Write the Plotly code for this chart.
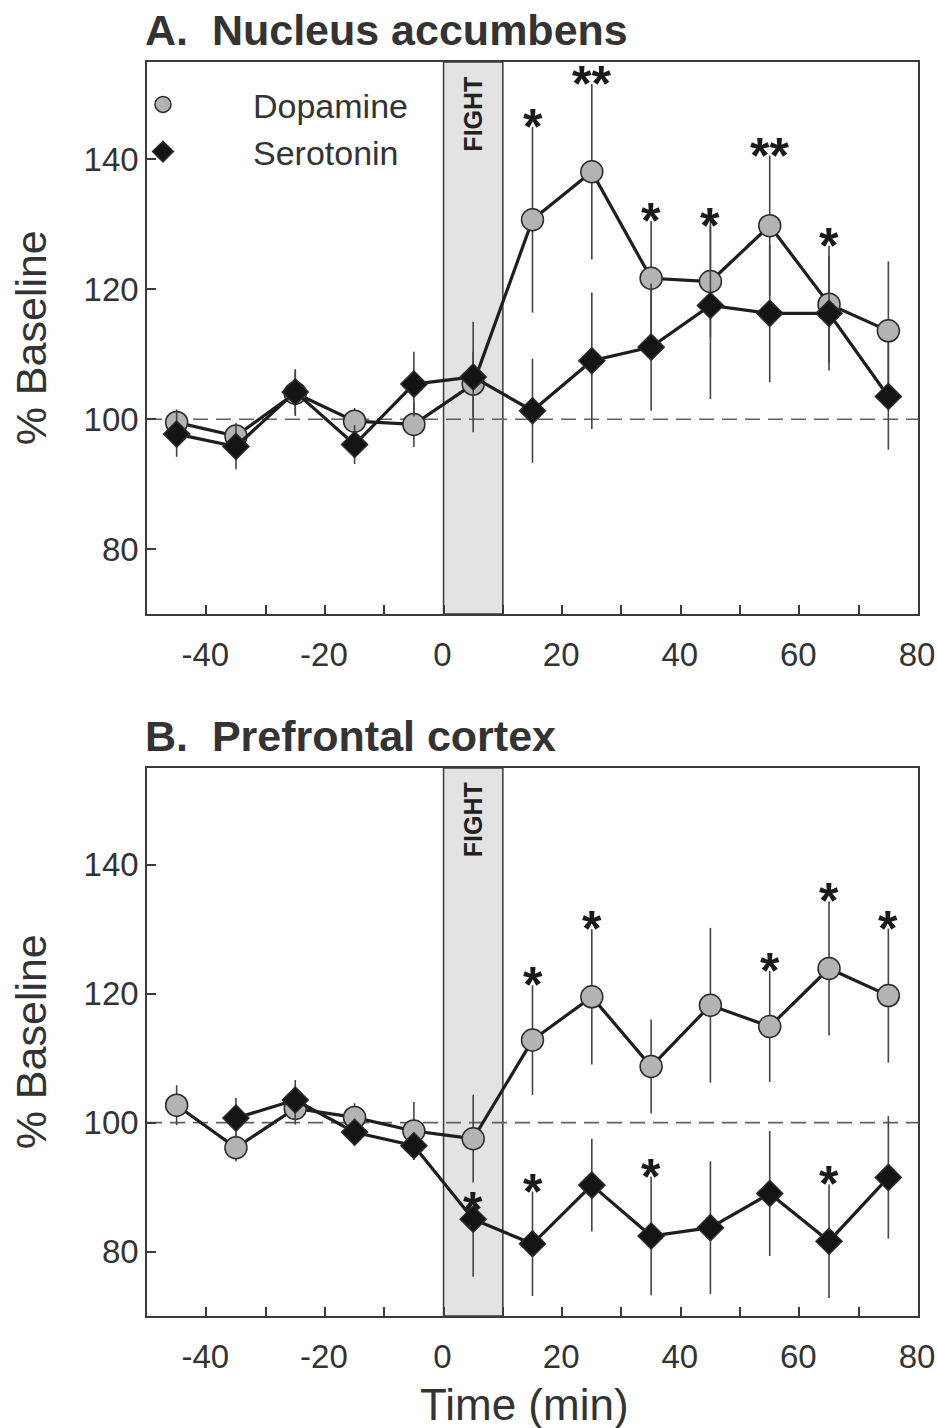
import plotly.graph_objects as go
from plotly.subplots import make_subplots

# ---------------- data ----------------
time = [-45, -35, -25, -15, -5, 5, 15, 25, 35, 45, 55, 65, 75]

# Panel A: Nucleus accumbens
a_da = [99.5, 97.4, 104.0, 99.7, 99.2, 105.4, 130.7, 138.1, 121.7, 121.2, 129.8, 117.7, 113.6]
a_da_err = [2.0, 2.0, 3.5, 2.0, 3.5, 5.0, 14.3, 13.5, 8.8, 8.6, 10.8, 9.0, 10.7]
a_da_sig = ['', '', '', '', '', '', '*', '**', '*', '*', '**', '*', '']

a_5ht = [97.7, 95.8, 104.2, 96.1, 105.4, 106.5, 101.3, 109.0, 111.1, 117.5, 116.3, 116.3, 103.5]
a_5ht_err = [3.5, 3.5, 3.5, 3.0, 5.0, 8.5, 8.0, 10.5, 9.8, 14.4, 10.6, 8.8, 8.2]

# Panel B: Prefrontal cortex
b_da = [102.7, 96.1, 102.2, 100.8, 98.7, 97.5, 112.8, 119.5, 108.7, 118.2, 114.9, 123.9, 119.7]
b_da_err = [3.1, 2.1, 2.5, 2.2, 4.5, 6.8, 8.5, 10.5, 7.3, 12.0, 8.6, 10.4, 10.4]
b_da_sig = ['', '', '', '', '', '', '*', '*', '', '', '*', '*', '*']

time_b5ht = [-35, -25, -15, -5, 5, 15, 25, 35, 45, 55, 65, 75]
b_5ht = [100.7, 103.5, 98.5, 96.4, 85.0, 81.2, 90.3, 82.4, 83.7, 89.0, 81.6, 91.5]
b_5ht_err_up = [3.1, 3.1, 2.1, 2.1, 1.5, 8.1, 7.2, 9.2, 10.3, 9.7, 8.8, 9.5]
b_5ht_err_dn = [3.1, 3.1, 2.1, 2.1, 8.9, 8.1, 7.2, 9.2, 10.3, 9.7, 8.8, 9.5]
b_5ht_sig = ['', '', '', '', '*', '*', '', '*', '', '', '*', '']

panel_titles = ["A.  Nucleus accumbens", "B.  Prefrontal cortex"]
series_names = ["Dopamine", "Serotonin"]
x_tickvals = [-40, -30, -20, -10, 0, 10, 20, 30, 40, 50, 60, 70, 80]
x_ticktext = ['-40', '', '-20', '', '0', '', '20', '', '40', '', '60', '', '80']
y_tickvals = [80, 100, 120, 140]
fight_window = [0, 10]
baseline = 100

# ---------------- style ----------------
FONT = "Liberation Sans, Arial, sans-serif"
TXT = "#333333"
AX = "#3a3a3a"
LINE = "#1e1e1e"
CIRC = "#b3b3b3"
DIAM = "#141414"
ERR = "#444444"
MARK = {"circle": (CIRC, 22), "diamond": (DIAM, 20)}

fig = make_subplots(rows=2, cols=1, vertical_spacing=0.12, shared_xaxes=False)


def add_series(row, x, y, up, dn, symbol, name):
    fill, size = MARK[symbol]
    fig.add_trace(go.Scatter(
        x=x, y=y, mode="lines+markers", name=name, showlegend=False,
        line=dict(color=LINE, width=3.2),
        marker=dict(symbol=symbol, size=size, color=fill,
                    line=dict(color="#2a2a2a", width=1.5)),
        error_y=dict(type="data", symmetric=False, array=up, arrayminus=dn,
                     color=ERR, thickness=1.6, width=0),
    ), row=row, col=1)


add_series(1, time, a_da, a_da_err, a_da_err, "circle", series_names[0])
add_series(1, time, a_5ht, a_5ht_err, a_5ht_err, "diamond", series_names[1])
add_series(2, time, b_da, b_da_err, b_da_err, "circle", series_names[0])
add_series(2, time_b5ht, b_5ht, b_5ht_err_up, b_5ht_err_dn, "diamond", series_names[1])

# legend entries (markers only)
for name, symbol in zip(series_names, ["circle", "diamond"]):
    fill, size = MARK[symbol]
    fig.add_trace(go.Scatter(
        x=[None], y=[None], mode="markers", name=name, showlegend=True,
        marker=dict(symbol=symbol, size=size, color=fill,
                    line=dict(color="#2a2a2a", width=1.5)),
    ), row=1, col=1)

annotations = []


def add_sig(xref, yref, xs, ys, errs, sigs):
    for xv, yv, ev, s in zip(xs, ys, errs, sigs):
        if s:
            annotations.append(dict(
                x=xv, y=yv + ev, xref=xref, yref=yref, text="<b>" + s + "</b>",
                showarrow=False, xanchor="center", yanchor="middle", yshift=0,
                font=dict(family=FONT, size=50, color="#1a1a1a")))


add_sig("x", "y", time, a_da, a_da_err, a_da_sig)
add_sig("x2", "y2", time, b_da, b_da_err, b_da_sig)
add_sig("x2", "y2", time_b5ht, b_5ht, b_5ht_err_up, b_5ht_sig)

shapes = []
for i, (xr, yr) in enumerate([("x", "y"), ("x2", "y2")]):
    shapes.append(dict(type="rect", xref=xr, yref=yr + " domain",
                       x0=fight_window[0], x1=fight_window[1], y0=0, y1=1,
                       fillcolor="#e3e3e3", line=dict(color=AX, width=1.5), layer="below"))
    shapes.append(dict(type="line", xref=xr + " domain", yref=yr, x0=0, x1=1,
                       y0=baseline, y1=baseline,
                       line=dict(color="#606060", width=1.6, dash="15px,8px"), layer="below"))
    annotations.append(dict(x=sum(fight_window) / 2, y=0.905, xref=xr, yref=yr + " domain",
                            text="<b>FIGHT</b>", textangle=-90, showarrow=False,
                            xanchor="center", yanchor="middle",
                            font=dict(family=FONT, size=25, color="#222222")))
    annotations.append(dict(x=0, y=1, xref=xr + " domain", yref=yr + " domain",
                            text="<b>" + panel_titles[i] + "</b>", showarrow=False,
                            xanchor="left", yanchor="bottom", yshift=6, xshift=-4,
                            font=dict(family=FONT, size=43, color=TXT)))
    annotations.append(dict(x=-0.150, y=0.5, xref="paper", yref=yr + " domain",
                            text="% Baseline", textangle=-90, showarrow=False,
                            xanchor="center", yanchor="middle",
                            font=dict(family=FONT, size=43, color=TXT)))

annotations.append(dict(x=0.49, y=0, xref="x2 domain", yref="y2 domain",
                        text="Time (min)", showarrow=False, xanchor="center",
                        yanchor="middle", yshift=-88,
                        font=dict(family=FONT, size=44, color=TXT)))

axis_common = dict(showgrid=False, zeroline=False, showline=True, linecolor=AX,
                   linewidth=1.6, mirror=True, ticks="inside", ticklen=9,
                   tickcolor=AX, tickwidth=1.5,
                   tickfont=dict(family=FONT, size=33, color=TXT))

for r in (1, 2):
    fig.update_xaxes(range=[-50, 80], tickmode="array", tickvals=x_tickvals,
                     ticktext=x_ticktext, ticklabelstandoff=11, ticklabelshift=-1,
                     **axis_common, row=r, col=1)
    fig.update_yaxes(range=[70, 155], tickmode="array", tickvals=y_tickvals,
                     ticklabelstandoff=0, **axis_common, row=r, col=1)

fig.update_yaxes(domain=[0.5598, 1.0], row=1, col=1)
fig.update_yaxes(domain=[0.0, 0.437], row=2, col=1)

fig.update_layout(
    width=937, height=1428,
    margin=dict(l=147, r=19, t=62, b=112, autoexpand=False),
    paper_bgcolor="white", plot_bgcolor="white",
    font=dict(family=FONT, color=TXT),
    shapes=shapes, annotations=annotations,
    legend=dict(x=-0.096, y=0.989, xanchor="left", yanchor="top", xref="paper", yref="paper",
                bgcolor="rgba(0,0,0,0)", itemwidth=170, tracegroupgap=0,
                font=dict(family=FONT, size=34, color=TXT)),
)

# remove the default 8px page margin so the figure fills the window exactly
fig.write_html("out.html", config={"displayModeBar": False},
               post_script="document.body.style.margin='0';")
